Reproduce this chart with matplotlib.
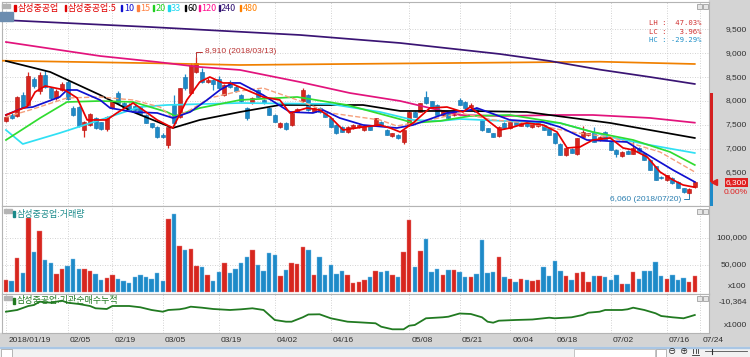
import numpy as np
import matplotlib
matplotlib.use("Agg")
from matplotlib import pyplot as plt
from matplotlib.patches import Rectangle
from matplotlib.transforms import blended_transform_factory as blend

plt.rcParams['font.family'] = ['Liberation Sans', 'Noto Sans CJK KR', 'DejaVu Sans']
KR = ['Noto Sans CJK KR', 'DejaVu Sans']

# daily candles, one per trading day from 2018/01/19 to 2018/07/23
opens = [7590, 7710, 7680, 8130, 7920, 8460, 8200, 8540, 8280, 8060,
         8220, 8400, 7850, 7880, 7400, 7500, 7640, 7550, 7410, 7850,
         8160, 7950, 7920, 7900, 7880, 7710, 7530, 7450, 7290, 7080,
         7920, 7670, 8510, 8160, 8610, 8610, 8400, 8440, 8470, 8130,
         8400, 8300, 8130, 7850, 7950, 8230, 8020, 7850, 7710, 7450,
         7530, 7500, 7780, 7990, 8130, 7780, 7850, 7740, 7640, 7500,
         7460, 7360, 7430, 7450, 7400, 7470, 7500, 7570, 7400, 7270,
         7290, 7150, 7500, 7780, 7780, 8090, 7990, 7920, 7700, 7740,
         7700, 8020, 7980, 7880, 7850, 7600, 7430, 7320, 7260, 7530,
         7430, 7570, 7480, 7540, 7450, 7480, 7500, 7430, 7320, 7110,
         6870, 7000, 6890, 7250, 7290, 7360, 7180, 7360, 7150, 6980,
         6840, 6960, 6900, 7010, 6910, 6770, 6630, 6420, 6350, 6380,
         6310, 6170, 6080, 6200]
highs = [7700, 7740, 8100, 8180, 8600, 8500, 8600, 8650, 8300, 8250,
         8400, 8430, 7900, 7900, 7580, 7740, 7660, 7560, 7690, 8000,
         8200, 7980, 7950, 7930, 7900, 7720, 7540, 7470, 7320, 7460,
         8130, 8280, 8560, 8800, 8910, 8680, 8480, 8460, 8520, 8360,
         8430, 8330, 8150, 7880, 8080, 8260, 8040, 7870, 7730, 7550,
         7560, 7760, 7850, 8270, 8150, 7870, 7880, 7760, 7660, 7520,
         7480, 7470, 7510, 7520, 7490, 7490, 7650, 7590, 7410, 7340,
         7300, 7400, 7790, 7800, 7960, 8200, 8010, 7940, 7810, 7760,
         7810, 8060, 7990, 7950, 7870, 7620, 7440, 7340, 7480, 7550,
         7580, 7590, 7560, 7560, 7530, 7540, 7520, 7450, 7340, 7130,
         7020, 7010, 7230, 7480, 7340, 7460, 7260, 7380, 7160, 7000,
         6950, 6980, 7180, 7030, 6920, 6780, 6640, 6440, 6460, 6400,
         6320, 6180, 6180, 6320]
lows = [7560, 7620, 7660, 7850, 7900, 8280, 8150, 8280, 8040, 8030,
        8200, 8030, 7690, 7450, 7250, 7480, 7420, 7390, 7380, 7830,
        7940, 7860, 7820, 7800, 7700, 7530, 7440, 7230, 7220, 7010,
        7500, 7640, 8240, 8140, 8580, 8380, 8380, 8230, 8250, 8100,
        8280, 8180, 7980, 7600, 7930, 8080, 7940, 7700, 7560, 7430,
        7400, 7480, 7760, 7970, 7800, 7760, 7750, 7660, 7450, 7310,
        7350, 7340, 7410, 7430, 7380, 7390, 7480, 7490, 7280, 7250,
        7210, 7100, 7480, 7660, 7760, 7940, 7870, 7700, 7690, 7630,
        7690, 7910, 7840, 7860, 7770, 7380, 7350, 7240, 7240, 7420,
        7410, 7490, 7470, 7460, 7440, 7460, 7390, 7280, 7110, 6860,
        6850, 6910, 6870, 7230, 7270, 7140, 7160, 7180, 6970, 6830,
        6820, 6890, 6890, 6930, 6760, 6550, 6340, 6370, 6330, 6270,
        6170, 6080, 6060, 6190]
closes = [7660, 7650, 8080, 7880, 8520, 8310, 8540, 8300, 8060, 8200,
          8360, 8050, 7710, 7470, 7560, 7720, 7430, 7410, 7670, 7990,
          7950, 7880, 7840, 7820, 7720, 7540, 7460, 7240, 7240, 7450,
          7540, 8270, 8270, 8750, 8790, 8400, 8440, 8350, 8270, 8340,
          8300, 8200, 7990, 7640, 8060, 8090, 7950, 7710, 7570, 7530,
          7410, 7740, 7830, 8230, 7810, 7850, 7760, 7670, 7460, 7320,
          7360, 7450, 7490, 7500, 7470, 7400, 7640, 7500, 7290, 7330,
          7220, 7390, 7780, 7670, 7950, 7950, 7880, 7710, 7800, 7640,
          7800, 7920, 7850, 7920, 7780, 7390, 7360, 7250, 7460, 7430,
          7570, 7500, 7540, 7470, 7510, 7530, 7400, 7290, 7120, 6870,
          7010, 6920, 7220, 7360, 7330, 7150, 7250, 7190, 6980, 6900,
          6940, 6900, 7010, 6940, 6770, 6560, 6350, 6380, 6450, 6280,
          6180, 6090, 6160, 6300]
# volume (x100 shares)
volume = [22500, 20100, 63400, 36000, 136700, 73800, 111700, 58600, 53700, 33500,
          42700, 48200, 61000, 42100, 42100, 39600, 33500, 22500, 26200, 31100,
          25000, 21300, 17700, 27400, 31100, 28600, 23800, 36000, 20100, 133600,
          143400, 85400, 78100, 79300, 48200, 47000, 32300, 21300, 37200, 53100,
          34700, 42100, 54300, 64000, 76900, 49400, 39600, 72000, 68300, 30500,
          40900, 53700, 52400, 83600, 77500, 32300, 64000, 31100, 50600, 33500,
          39600, 31100, 17700, 18900, 22500, 28600, 38400, 37200, 38400, 31100,
          27400, 73200, 132400, 47000, 75600, 97600, 37200, 42100, 31100, 40900,
          40900, 37200, 27400, 27400, 33500, 96400, 34700, 37200, 64000, 27400,
          25000, 18900, 23800, 22500, 21300, 22500, 47000, 29900, 57300, 39600,
          29900, 22500, 34700, 37200, 18900, 29900, 29900, 27400, 22500, 31100,
          15800, 15800, 37200, 25000, 38400, 39600, 55500, 29900, 23800, 32300,
          22500, 26200, 18900, 29900]

# moving averages: (trading-day index, price)
ma5_i = [0, 3.75, 5.2, 7, 8.75, 10.5, 12.7, 14.5, 18, 19.8, 22.7, 24.5, 27, 29.8, 32.3,
         34.6, 36.4, 38.75, 40, 45.9, 48.9, 50.7, 53.75, 56, 57.9, 60.2, 63.75, 66.8,
         68.6, 70.4, 72.7, 75.7, 78.75, 81.6, 82.9, 85.9, 88.2, 90, 93, 95.9, 98.4,
         100.2, 102.5, 104.8, 107.9, 110.2, 112, 114.5, 116.8, 119.1, 120.9, 122.7, 123]
ma5_v = [7707, 7881, 8188, 8314, 8272, 8230, 8063, 7603, 7603, 7749, 7958, 7812, 7603,
         7435, 8021, 8397, 8502, 8377, 8377, 8084, 8021, 7749, 7853, 7812, 7665, 7393,
         7456, 7498, 7435, 7351, 7540, 7853, 7874, 7770, 7874, 7603, 7393, 7435, 7540,
         7498, 7351, 7017, 7038, 7184, 7226, 7017, 6975, 6829, 6515, 6348, 6243, 6202, 6202]
ma10_i = [0, 3, 4.8, 9.6, 10.9, 12.7, 16.8, 18.6, 22.7, 27, 29.8, 32.9, 35.9, 38.2, 40.5,
          41.8, 45.9, 50.7, 54.8, 56.6, 59.6, 63.75, 69.8, 72.7, 78.75, 82.9, 84.1, 90,
          95.9, 98.9, 103.75, 110.9, 113.75, 119.1, 123]
ma10_v = [7707, 7853, 7874, 8084, 8230, 8230, 8021, 7853, 7770, 7749, 7644, 7770, 8021,
          8230, 8377, 8377, 8126, 7770, 7749, 7812, 7644, 7498, 7435, 7498, 7749, 7812,
          7853, 7603, 7561, 7456, 7184, 7142, 6933, 6557, 6306]
ma15_i = [0, 4.3, 10.9, 16.8, 22.7, 27.5, 29.8, 32.9, 36.4, 41.8, 45.9, 52, 57.9, 66.8,
          69.8, 75.7, 81.1, 87, 93, 102, 107.9, 116.8, 123]
ma15_v = [7665, 7812, 8063, 8084, 8021, 7874, 7644, 7812, 8063, 8209, 8272, 8021, 7749,
          7603, 7477, 7603, 7749, 7603, 7540, 7330, 7247, 6933, 6515]
ma20_i = [0, 6.1, 10.9, 16.8, 22.7, 28.75, 30.2, 34.6, 41.8, 52, 60.9, 70.9, 72.7, 77.5,
          82.9, 90, 98.9, 104.8, 112, 118.6, 123]
ma20_v = [7184, 7644, 7979, 8000, 7979, 7770, 7686, 7853, 8021, 8084, 7916, 7603, 7540,
          7582, 7686, 7707, 7540, 7351, 7184, 6933, 6661]
ma33_i = [0, 3, 9.6, 16.8, 23.9, 28.75, 41.8, 57.9, 66.8, 72.7, 77.5, 81.1, 93, 98.9,
          107.9, 115, 123]
ma33_v = [7393, 7100, 7330, 7603, 7874, 7916, 7958, 7937, 7770, 7603, 7582, 7623, 7561,
          7540, 7247, 7079, 6912]
ma60_i = [0, 7.9, 16.8, 22.7, 29.8, 34.6, 41.8, 48.9, 63.75, 70.4, 82.9, 93, 107.9, 123]
ma60_v = [8837, 8607, 8126, 7770, 7435, 7603, 7770, 7916, 7916, 7791, 7791, 7770, 7540, 7226]
ma120_i = [0, 16.8, 27, 34.6, 41.8, 52.5, 61.4, 70.4, 75.7, 81.1, 88.2, 98.9, 104.8, 115, 123]
ma120_v = [9234, 8941, 8816, 8711, 8649, 8397, 8167, 8000, 7853, 7707, 7686, 7707, 7707,
           7645, 7546]
ma240_i = [-0.7, 25.7, 52.5, 70.4, 88.2, 97.1, 106.1, 115, 123]
ma240_v = [9695, 9548, 9381, 9213, 8983, 8837, 8655, 8502, 8356]
ma480_i = [-0.7, 27, 41.8, 70.4, 106.1, 123]
ma480_v = [8843, 8789, 8753, 8785, 8822, 8774]

# institutional net buying, cumulative (x1000)
flow_i = [0, 2, 4, 5, 6, 8, 10, 11, 13, 15, 16, 18, 19, 22, 24, 26, 28, 29, 31, 32,
          33, 35, 37, 40, 42, 44, 46, 48, 50, 51, 53, 54, 56, 58, 61, 63, 66, 67, 69,
          71, 72, 73, 75, 78, 79, 81, 83, 85, 86, 87, 88, 91, 94, 97, 98, 101, 103,
          104, 106, 107, 110, 111, 112, 114, 116, 117, 119, 121, 122, 123]
flow_v = [-15360, -14510, -12510, -12010, -10364, -10860, -9860, -10860, -11510, -12510,
          -13660, -14010, -12510, -12510, -13160, -14510, -15360, -14510, -14160, -13660,
          -12860, -13360, -14010, -14510, -14160, -13660, -14510, -19510, -20360, -20360,
          -18160, -16760, -16660, -18660, -20360, -20660, -21160, -22860, -24160, -24160,
          -22360, -22010, -18660, -18160, -17860, -16260, -16510, -18160, -20360, -20860,
          -19860, -19510, -19260, -18360, -18660, -18160, -17010, -15860, -15360, -14510,
          -14510, -14160, -13360, -14510, -16160, -17510, -18160, -18660, -17860, -17010]

tick_labels = ['2018/01/19', '02/05', '02/19', '03/05', '03/19', '04/02', '04/16',
               '05/08', '05/21', '06/04', '06/18', '07/02', '07/16', '07/24']
tick_pos = [0, 11, 19, 28, 38, 48, 58, 72, 81, 90, 98, 108, 118, 124]
price_levels = [6500, 7000, 7500, 8000, 8500, 9000, 9500]
vol_levels = [50000, 100000]
range_top = 8160

RED = '#d7261e'
BLUE = '#1e8ac8'
GRID = '#c4c4c4'
PANEL = '#d4d4d4'

W, H = 750, 357
fig = plt.figure(figsize=(W / 100, H / 100), dpi=100)
fig.patch.set_facecolor('white')


def box(x0, y0, x1, y1):
    return [x0 / W, 1 - y1 / H, (x1 - x0) / W, (y1 - y0) / H]


def frect(x0, y0, x1, y1, **kw):
    r = Rectangle((x0 / W, 1 - y1 / H), (x1 - x0) / W, (y1 - y0) / H,
                  transform=fig.transFigure, **kw)
    fig.patches.append(r)


def fline(x0, y0, x1, y1, **kw):
    fig.lines.append(plt.Line2D([x0 / W, x1 / W], [1 - y0 / H, 1 - y1 / H],
                                transform=fig.transFigure, **kw))


# backgrounds: right scale column, date band, scroll bar
frect(709, 0, 750, 347, color=PANEL, zorder=-2)
frect(0, 333, 750, 347, color=PANEL, zorder=-2)
frect(0, 347, 750, 357, color='#f2f2f2', zorder=-2)
frect(0, 347, 750, 348, color='#a9c6e4', zorder=-1)

ax_p = fig.add_axes(box(2, 2, 709, 206))
ax_v = fig.add_axes(box(2, 206, 709, 294))
ax_f = fig.add_axes(box(2, 294, 709, 333))
ax_pr = fig.add_axes(box(709, 2, 750, 206), facecolor='none')
ax_vr = fig.add_axes(box(709, 206, 750, 294), facecolor='none')
ax_fr = fig.add_axes(box(709, 294, 750, 333), facecolor='none')

ax_p.set_ylim(5803, 10071)
ax_v.set_ylim(-3114, 158059)
ax_f.set_ylim(-26014, -6514)
for a, b in [(ax_p, ax_pr), (ax_v, ax_vr), (ax_f, ax_fr)]:
    a.set_xlim(-0.71, 125.54)
    b.set_ylim(a.get_ylim())
    b.set_xlim(0, 1)
    for ax in (a, b):
        ax.set_xticks([])
        ax.set_yticks([])
        for s in ax.spines.values():
            s.set_color('#b4b4b4')
            s.set_linewidth(0.8)
    for s in b.spines.values():
        s.set_visible(False)
    for t in tick_pos:
        a.axvline(t, color=GRID, lw=0.6, ls=(0, (1, 2)), zorder=0)

for lv in price_levels:
    ax_p.axhline(lv, color=GRID, lw=0.6, ls=(0, (1, 2)), zorder=0)
    ax_pr.text(0.92, lv, f'{lv:,}', ha='right', va='center', fontsize=6, color='#303030')
for lv in vol_levels:
    ax_v.axhline(lv, color=GRID, lw=0.6, ls=(0, (1, 2)), zorder=0)
    ax_vr.text(0.92, lv, f'{lv:,}', ha='right', va='center', fontsize=6, color='#303030')
ax_vr.text(0.92, 0.08, 'x100', transform=ax_vr.transAxes, ha='right', va='center',
           fontsize=6, color='#303030')
ax_fr.text(0.92, -10364, '-10,364', ha='right', va='center', fontsize=6, color='#303030')
ax_fr.text(0.92, 0.19, 'x1000', transform=ax_fr.transAxes, ha='right', va='center',
           fontsize=6, color='#303030')

# candles
x = np.arange(len(closes))
o = np.array(opens)
c = np.array(closes)
up = c >= o
col = np.where(up, RED, BLUE)
edge = np.where(up, '#b01010', '#1070a8')
ax_p.vlines(x, lows, highs, colors=col, lw=0.9, zorder=2)
ax_p.bar(x, np.maximum(np.abs(c - o), 12), bottom=np.minimum(o, c), width=0.7,
         color=col, edgecolor=edge, linewidth=0.4, zorder=2.5)

# moving averages
ma_specs = [
    (ma480_i, ma480_v, '#f08000', '-'),
    (ma240_i, ma240_v, '#3a1474', '-'),
    (ma120_i, ma120_v, '#e2137c', '-'),
    (ma60_i, ma60_v, '#000000', '-'),
    (ma33_i, ma33_v, '#30e0f4', '-'),
    (ma20_i, ma20_v, '#30dc30', '-'),
    (ma15_i, ma15_v, '#f5a07c', '--'),
    (ma10_i, ma10_v, '#1010d0', '-'),
    (ma5_i, ma5_v, '#e80000', '-'),
]
for mi, mv, mc, ls in ma_specs:
    ax_p.plot(mi, mv, color=mc, lw=1.25 if ls == '-' else 1.0, ls=ls, zorder=3)

# high / low marks
hi = int(np.argmax(highs))
lo = int(np.argmin(lows))
ax_p.annotate(f'{highs[hi]:,} (2018/03/13)', xy=(hi, highs[hi]), xytext=(6, 4),
              textcoords='offset points', ha='left', va='center', fontsize=6,
              color='#b83030',
              arrowprops=dict(arrowstyle='-', color='#b83030', lw=0.7, shrinkA=0,
                              shrinkB=0, relpos=(0, 0.5),
                              connectionstyle='angle,angleA=0,angleB=90,rad=0'))
ax_p.annotate(f'{lows[lo]:,} (2018/07/20)', xy=(lo, lows[lo]), xytext=(-6, -4),
              textcoords='offset points', ha='right', va='center', fontsize=6,
              color='#2a7eb0',
              arrowprops=dict(arrowstyle='-', color='#2a7eb0', lw=0.7, shrinkA=0,
                              shrinkB=0, relpos=(1, 0.5),
                              connectionstyle='angle,angleA=0,angleB=90,rad=0'))

# LH / LC / HC box
stats = [('LH :  47.03%', '#d03030'), ('LC :   3.96%', '#d03030'), ('HC : -29.29%', '#2090c8')]
for k, (s, sc) in enumerate(stats):
    ax_p.text(0.99, 0.896 - k * 0.042, s, transform=ax_p.transAxes, ha='right', va='center',
              fontsize=5.2, family='DejaVu Sans Mono', color=sc)

# current price column
last = closes[-1]
ax_pr.bar(0.06, range_top - last, bottom=last, width=0.07, color='#d42020')
ax_pr.bar(0.06, last - 5803, bottom=5803, width=0.07, color='#1e8ac8')
ax_pr.plot([0.12], [last], marker='<', color='#e02020', ms=4, clip_on=False)
ax_pr.text(0.93, last, f'{last:,}', ha='right', va='center', fontsize=6, color='white',
           bbox=dict(facecolor='#e02020', edgecolor='none', pad=0.6))
ax_pr.annotate('0.00%', xy=(0.93, last), xytext=(0, -7.5), textcoords='offset points',
               ha='right', va='center', fontsize=6, color='#e02020')

# volume
ax_v.bar(x, volume, width=0.78, color=col, edgecolor=np.where(up, '#e88080', '#80c0e8'),
         linewidth=0.3, zorder=2)

# institutional cumulative
ax_f.plot(flow_i, flow_v, color='#217a21', lw=1.3, zorder=2)

# date labels
for t, lab in zip(tick_pos, tick_labels):
    ax_f.text(t + 0.4, -0.18, lab, transform=blend(ax_f.transData, ax_f.transAxes),
              ha='left', va='center', fontsize=6, color='#303030', clip_on=False)

# panel captions
legend_items = [('삼성중공업', '#e00000', 14.3, 18), ('삼성중공업:5', '#e00000', 65, 68),
                ('10', '#1010d0', 120.7, 124), ('15', '#ff8040', 137.3, 140),
                ('20', '#20d020', 152.7, 155.3), ('33', '#20d8f0', 168.3, 170.7),
                ('60', '#000000', 185, 187.7), ('120', '#ff1090', 199, 201.3),
                ('240', '#301070', 218.7, 221), ('480', '#ff8000', 240, 243)]
for lab, lc, bx, tx in legend_items:
    frect(bx, 5, bx + 1.4, 11, color=lc, zorder=5)
    fig.text(tx / W, 1 - 8.5 / H, lab, fontsize=6.5, color=lc, va='center', ha='left',
             family=KR)
frect(2, 4, 10, 7.5, color='#b4b4b4', zorder=5)
frect(0, 12, 13, 21, color='#6c8db0', zorder=5)
fig.text(6.5 / W, 1 - 16.5 / H, '호', fontsize=5.5, color='white', ha='center',
         va='center', family=KR)

frect(4, 209, 12, 212.5, color='#b4b4b4', zorder=5)
frect(13.5, 211, 14.9, 217, color='#1a8a8a', zorder=5)
fig.text(16.5 / W, 1 - 214 / H, '삼성중공업:거래량', fontsize=6.5, color='#1a8a8a',
         va='center', family=KR)
frect(4, 296, 12, 299.5, color='#b4b4b4', zorder=5)
frect(13.5, 297.5, 14.9, 303.5, color='#217a21', zorder=5)
fig.text(16.5 / W, 1 - 300.5 / H, '삼성중공업:기관순매수누적', fontsize=6.5, color='#217a21',
         va='center', family=KR)

# tiny panel buttons
for yb in (4, 209, 296):
    for xb in (697, 703):
        frect(xb, yb, xb + 5, yb + 5, facecolor='#e6e6e6', edgecolor='#909090', lw=0.5,
              zorder=5)

# scroll bar controls
frect(1, 348.5, 12, 356.5, facecolor='white', edgecolor='#9a9a9a', lw=0.5, zorder=5)
fig.text(6.5 / W, 1 - 352.5 / H, '◀', fontsize=4.5, ha='center', va='center', color='#202020')
frect(574, 348.5, 655, 356.5, facecolor='white', edgecolor='#b0b0b0', lw=0.5, zorder=5)
frect(656, 348.5, 666, 356.5, facecolor='white', edgecolor='#9a9a9a', lw=0.5, zorder=5)
fig.text(661 / W, 1 - 352.5 / H, '▶', fontsize=4.5, ha='center', va='center', color='#202020')
fig.text(672 / W, 1 - 352.5 / H, '⊖', fontsize=6, ha='center', va='center', color='#202020')
fig.text(684 / W, 1 - 352.5 / H, '⊕', fontsize=6, ha='center', va='center', color='#202020')
for xb in (693, 695.5, 698):
    fline(xb, 349, xb, 353, color='#303030', lw=0.6)
fline(692, 355, 699, 355, color='#303030', lw=0.6)
fline(705, 351, 747, 351, color='#505050', lw=0.6)
fline(712, 349, 712, 354, color='#303030', lw=0.8)

fig.savefig('out.png', dpi=100)
